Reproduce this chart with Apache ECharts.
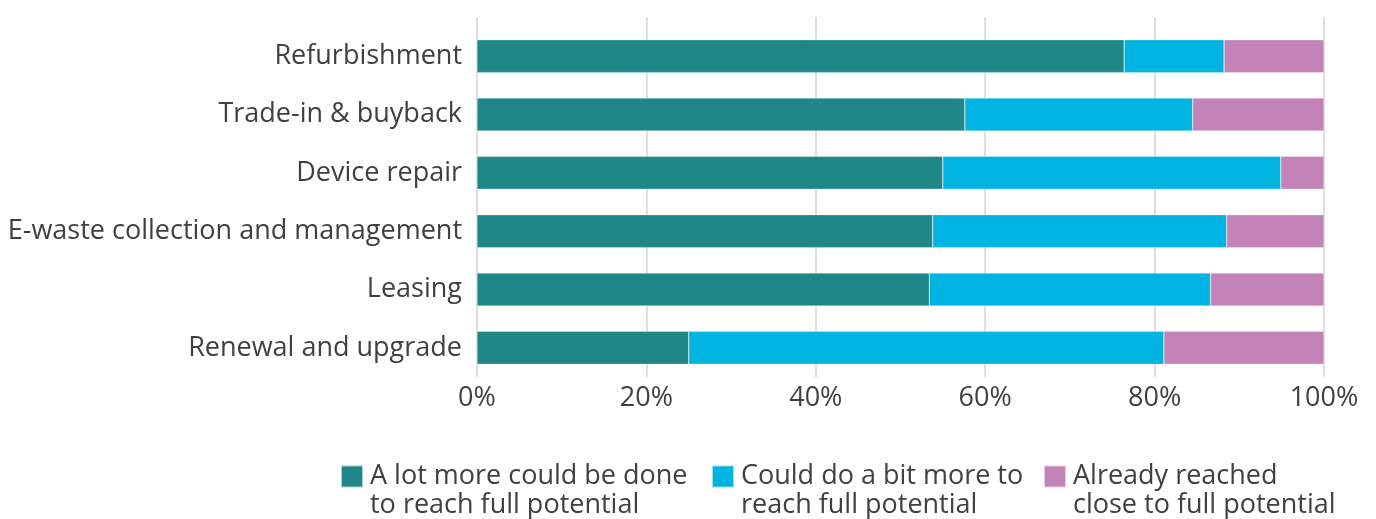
<!DOCTYPE html>
<html>
<head>
<meta charset="utf-8">
<title>Circular business models: room to grow</title>
<script src="https://cdn.jsdelivr.net/npm/echarts@6/dist/echarts.min.js"></script>
<style>
  html, body { margin: 0; padding: 0; background: #ffffff; }
  #chart { width: 1376px; height: 519px; }
</style>
</head>
<body>
<div id="chart"></div>
<script>
// Business models, top to bottom
const categories = [
  'Refurbishment',
  'Trade-in & buyback',
  'Device repair',
  'E-waste collection and management',
  'Leasing',
  'Renewal and upgrade'
];

// Share of respondents (%) per answer
const aLotMore = [76.4, 57.6, 55.0, 53.8, 53.4, 25.0];
const aBitMore = [11.8, 26.9, 39.9, 34.7, 33.2, 56.1];
const alreadyReached = [11.8, 15.5, 5.1, 11.5, 13.4, 18.9];

const seriesNames = [
  'A lot more could be done\nto reach full potential',
  'Could do a bit more to\nreach full potential',
  'Already reached\nclose to full potential'
];
const seriesColors = ['#1f8787', '#00b4e2', '#c383b8'];
const xTicks = [0, 20, 40, 60, 80, 100];

const FONT = '"Open Sans", "Noto Sans", sans-serif';
const FS = 27;
const TEXT = '#404040';
const GRID = '#d4d4d4';
const LH = 29;

const chart = echarts.init(document.getElementById('chart'), null, { renderer: 'canvas' });

const values = [aLotMore, aBitMore, alreadyReached];

// One legend per entry; a blank leading line keeps the swatch level with the first text line
function legendAt(left, idx) {
  return {
    data: [seriesNames[idx]],
    left: left,
    top: 433,
    padding: 0,
    icon: 'rect',
    itemWidth: 22,
    itemHeight: 22,
    selectedMode: false,
    formatter: name => ' \n' + name,
    textStyle: {
      fontFamily: FONT,
      fontSize: FS,
      color: TEXT,
      lineHeight: LH,
      padding: [0, 0, 0, 2]
    }
  };
}

chart.setOption({
  animation: false,
  backgroundColor: '#ffffff',
  textStyle: { fontFamily: FONT },
  grid: { left: 477, right: 52, top: 27, bottom: 142, containLabel: false },
  legend: [legendAt(340, 0), legendAt(711, 1), legendAt(1043, 2)],
  xAxis: [
    {
      type: 'value',
      position: 'bottom',
      min: xTicks[0],
      max: xTicks[xTicks.length - 1],
      interval: xTicks[1] - xTicks[0],
      axisLine: { show: false },
      axisTick: { show: false },
      axisLabel: {
        formatter: v => v + '%',
        fontFamily: FONT,
        fontSize: FS,
        color: TEXT,
        margin: 8
      },
      splitLine: { show: true, lineStyle: { color: GRID, width: 1.5 } }
    },
    {
      // short extensions of the gridlines above the plot
      type: 'value',
      position: 'top',
      min: xTicks[0],
      max: xTicks[xTicks.length - 1],
      interval: xTicks[1] - xTicks[0],
      axisLine: { show: false },
      axisTick: { show: true, length: 10, lineStyle: { color: GRID, width: 1.5 } },
      axisLabel: { show: false },
      splitLine: { show: false }
    }
  ],
  yAxis: {
    type: 'category',
    data: categories,
    inverse: true,
    axisLine: { show: false },
    axisTick: { show: false },
    axisLabel: {
      fontFamily: FONT,
      fontSize: FS,
      color: TEXT,
      margin: 15,
      padding: [3, 0, 0, 0]
    }
  },
  series: values.map((arr, i) => ({
    name: seriesNames[i],
    type: 'bar',
    stack: 'total',
    xAxisIndex: 0,
    barWidth: 33,
    data: arr,
    itemStyle: { color: seriesColors[i], borderColor: 'rgba(255,255,255,0.6)', borderWidth: 0.5 },
    emphasis: { disabled: true }
  }))
});
</script>
</body>
</html>
